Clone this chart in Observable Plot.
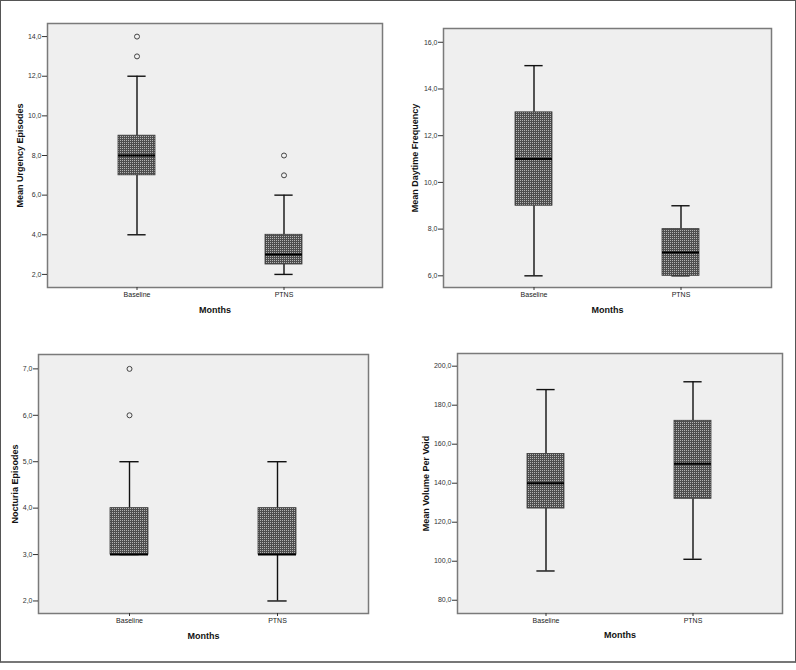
<!DOCTYPE html>
<html><head><meta charset="utf-8">
<script src="https://cdn.jsdelivr.net/npm/d3@7"></script>
<script src="https://cdn.jsdelivr.net/npm/@observablehq/plot@0.6"></script>
<style>
body{margin:0;background:#fff;}
#fig{position:relative;width:796px;height:670px;overflow:hidden;background:#fff;font-family:"Liberation Sans",Arial,sans-serif;}
#border{position:absolute;left:0;top:0;width:796px;height:663px;box-sizing:border-box;border:1.5px solid #555;border-bottom:2px solid #777;pointer-events:none;}
.panel{position:absolute;}
</style></head><body>
<div id="fig">
<svg width="0" height="0" style="position:absolute"><defs>
<pattern id="checker" width="2" height="2" patternUnits="userSpaceOnUse">
<rect width="2" height="2" fill="#4e4e4e"/><rect width="1" height="1" fill="#b4b4b4"/>
</pattern></defs></svg>
</div>
<script>
// Categories
const months = ["Baseline", "PTNS"];
// Five-number summaries: [lower whisker, Q1, median, Q3, upper whisker]
const urgencyBaseline = [4, 7, 8, 9, 12];
const urgencyPTNS = [2, 2.5, 3, 4, 6];
const urgencyOutliersBaseline = [13, 14];
const urgencyOutliersPTNS = [7, 8];
const daytimeBaseline = [6, 9, 11, 13, 15];
const daytimePTNS = [6, 6, 7, 8, 9];
const nocturiaBaseline = [3, 3, 3, 4, 5];
const nocturiaPTNS = [2, 3, 3, 4, 5];
const nocturiaOutliersBaseline = [6, 7];
const volumeBaseline = [95, 127, 140, 155, 188];
const volumePTNS = [101, 132, 150, 172, 192];
// Tick values
const urgencyTicks = [2, 4, 6, 8, 10, 12, 14];
const daytimeTicks = [6, 8, 10, 12, 14, 16];
const nocturiaTicks = [2, 3, 4, 5, 6, 7];
const volumeTicks = [80, 100, 120, 140, 160, 180, 200];

const fmt = d => d.toFixed(1).replace(".", ",");
const BOXW = 37.5;

function panel(cfg) {
  const {title, summaries, outliers, ticks, yDomain, left, top, width, height,
         mL, mR, mT, mB, c1, c2, titleDx, monthsDy} = cfg;
  const boxes = months.map((m, i) => ({
    month: m, lo: summaries[i][0], q1: summaries[i][1], med: summaries[i][2],
    q3: summaries[i][3], hi: summaries[i][4]
  }));
  const pts = months.flatMap((m, i) => (outliers[i] || []).map(v => ({month: m, v})));
  const s = c2 - c1;
  const pi = 1 - BOXW / s;
  const svg = Plot.plot({
    width, height,
    marginLeft: mL, marginRight: mR, marginTop: mT, marginBottom: mB,
    style: {background: "transparent", fontFamily: "'Liberation Sans', Arial, sans-serif", fontSize: "7px", color: "#333", overflow: "visible"},
    x: {type: "band", domain: months, range: [c1 - s / 2, c2 + s / 2], paddingInner: pi, paddingOuter: pi / 2, align: 0.5},
    y: {domain: yDomain},
    marks: [
      Plot.frame({fill: "#efefef"}),
      Plot.ruleX(boxes, {x: "month", y1: "lo", y2: "q1", stroke: "#111", strokeWidth: 1.4}),
      Plot.ruleX(boxes, {x: "month", y1: "q3", y2: "hi", stroke: "#111", strokeWidth: 1.4}),
      Plot.tickY(boxes, {x: "month", y: "lo", insetLeft: BOXW / 4, insetRight: BOXW / 4, stroke: "#111", strokeWidth: 1.4}),
      Plot.tickY(boxes, {x: "month", y: "hi", insetLeft: BOXW / 4, insetRight: BOXW / 4, stroke: "#111", strokeWidth: 1.4}),
      Plot.barY(boxes, {x: "month", y1: "q1", y2: "q3", fill: "url(#checker)", stroke: "#3a3a3a", strokeWidth: 0.8}),
      Plot.tickY(boxes, {x: "month", y: "med", stroke: "#000", strokeWidth: 2}),
      Plot.dot(pts, {x: "month", y: "v", r: 2.5, stroke: "#444", fill: "none", strokeWidth: 1}),
      Plot.frame({stroke: "#7a7a7a", strokeWidth: 1.5}),
      Plot.axisY({ticks, tickFormat: fmt, tickSize: 5, tickPadding: 1, label: null, stroke: "#333", fill: "#333"}),
      Plot.axisX({tickSize: 3, tickPadding: 2, label: null, stroke: "#333", fill: "#222"}),
      Plot.text([title], {frameAnchor: "left", text: d => d, rotate: -90, dx: titleDx, textAnchor: "middle", lineAnchor: "middle", fontWeight: "bold", fontSize: 9, fill: "#111"}),
      Plot.text(["Months"], {frameAnchor: "bottom", text: d => d, dy: monthsDy, textAnchor: "middle", lineAnchor: "middle", fontWeight: "bold", fontSize: 9, fill: "#111"})
    ]
  });
  svg.classList.add("panel");
  svg.style.left = left + "px";
  svg.style.top = top + "px";
  svg.style.position = "absolute";
  document.getElementById("fig").appendChild(svg);
}

panel({title: "Mean Urgency Episodes", summaries: [urgencyBaseline, urgencyPTNS],
  outliers: [urgencyOutliersBaseline, urgencyOutliersPTNS], ticks: urgencyTicks,
  yDomain: [1.34, 14.66], left: 0, top: 0, width: 398, height: 332,
  mL: 47, mR: 16, mT: 23, mB: 45, c1: 136.3, c2: 283.3, titleDx: -27, monthsDy: 23});

panel({title: "Mean Daytime Frequency", summaries: [daytimeBaseline, daytimePTNS],
  outliers: [[], []], ticks: daytimeTicks,
  yDomain: [5.5, 16.59], left: 398, top: 0, width: 398, height: 332,
  mL: 45, mR: 25, mT: 28, mB: 45, c1: 135.3, c2: 283, titleDx: -28, monthsDy: 23});

panel({title: "Nocturia Episodes", summaries: [nocturiaBaseline, nocturiaPTNS],
  outliers: [nocturiaOutliersBaseline, []], ticks: nocturiaTicks,
  yDomain: [1.73, 7.31], left: 0, top: 332, width: 398, height: 332,
  mL: 38, mR: 30, mT: 22, mB: 51, c1: 128.7, c2: 276.7, titleDx: -23, monthsDy: 23});

panel({title: "Mean Volume Per Void", summaries: [volumeBaseline, volumePTNS],
  outliers: [[], []], ticks: volumeTicks,
  yDomain: [73.2, 206.5], left: 398, top: 332, width: 398, height: 332,
  mL: 59, mR: 14, mT: 21, mB: 51, c1: 147.7, c2: 294.7, titleDx: -31, monthsDy: 22});

const b = document.createElement("div");
b.id = "border";
document.getElementById("fig").appendChild(b);
</script>
</body></html>
